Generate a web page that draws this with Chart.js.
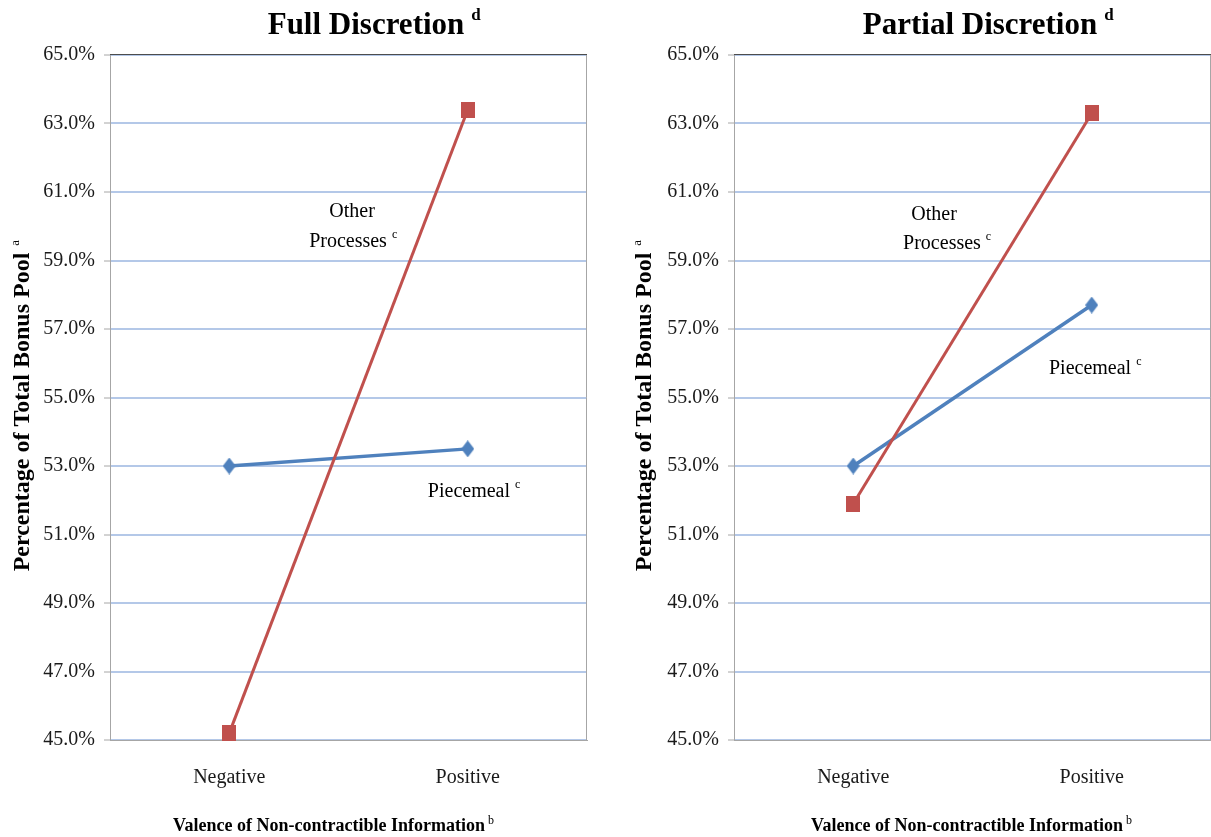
<!DOCTYPE html>
<html>
<head>
<meta charset="utf-8">
<title>Bonus pool allocation by valence of non-contractible information</title>
<script src="https://cdn.jsdelivr.net/npm/chart.js@4/dist/chart.umd.min.js"></script>
<style>
  html, body { margin: 0; padding: 0; background: #ffffff; overflow: hidden; }
  #wrap { position: relative; width: 1211px; height: 837px; }
  .panel { position: absolute; top: 0; height: 837px; }
  #leftPanel { left: 0; width: 620px; }
  #rightPanel { left: 620px; width: 591px; }
  canvas { display: block; }
</style>
</head>
<body>
<div id="wrap">
  <div class="panel" id="leftPanel"><canvas id="fullChart" width="620" height="837"></canvas></div>
  <div class="panel" id="rightPanel"><canvas id="partialChart" width="591" height="837"></canvas></div>
</div>
<script>
// ---- data ----
const categories = ['Negative', 'Positive'];
const yTickValues = [45, 47, 49, 51, 53, 55, 57, 59, 61, 63, 65];

const fullPiecemeal = [53.0, 53.5];
const fullOther = [45.2, 63.4];

const partialPiecemeal = [53.0, 57.7];
const partialOther = [51.9, 63.3];

// ---- styling ----
const SERIF = '"Liberation Serif", "Times New Roman", Times, serif';
const RED = '#c0504d';
const BLUE = '#4f81bd';
const GRID = '#b4c8e8';
const AXIS = '#a6a6a6';

function squareMarker(w, h, color) {
  const c = document.createElement('canvas');
  c.width = w; c.height = h;
  const g = c.getContext('2d');
  g.fillStyle = color;
  g.fillRect(0, 0, w, h);
  return c;
}
function diamondMarker(w, h, color) {
  const c = document.createElement('canvas');
  c.width = w; c.height = h;
  const g = c.getContext('2d');
  g.fillStyle = color;
  g.beginPath();
  g.moveTo(w / 2, 0);
  g.lineTo(w, h / 2);
  g.lineTo(w / 2, h);
  g.lineTo(0, h / 2);
  g.closePath();
  g.fill();
  return c;
}
const redSquare = squareMarker(14, 16, RED);
const blueDiamond = diamondMarker(13, 17, BLUE);

// text with a trailing superscript; (x) is the centre of the main text
function textWithSup(ctx, x, y, main, sup, mainFont, supFont, raise, gap) {
  ctx.font = mainFont;
  const w = ctx.measureText(main).width;
  ctx.textAlign = 'left';
  ctx.textBaseline = 'alphabetic';
  ctx.fillText(main, x - w / 2, y);
  ctx.font = supFont;
  ctx.fillText(sup, x + w / 2 + gap, y - raise);
}

// plot frame: dark top line, grey right edge
const framePlugin = {
  id: 'frame',
  beforeDatasetsDraw(chart) {
    const { ctx, chartArea: a } = chart;
    ctx.save();
    ctx.lineWidth = 1;
    ctx.strokeStyle = AXIS;
    ctx.beginPath();
    ctx.moveTo(a.right - 0.5, a.top);
    ctx.lineTo(a.right - 0.5, a.bottom);
    ctx.stroke();
    ctx.strokeStyle = '#4d4d4d';
    ctx.beginPath();
    ctx.moveTo(a.left, a.top - 0.5);
    ctx.lineTo(a.right, a.top - 0.5);
    ctx.stroke();
    ctx.restore();
  }
};

// titles, axis titles and series labels
const textPlugin = {
  id: 'texts',
  afterDraw(chart, args, opts) {
    const { ctx, scales } = chart;
    ctx.save();
    ctx.fillStyle = '#000';
    // chart title
    textWithSup(ctx, opts.titleX, 34, opts.title, 'd',
      'bold 31px ' + SERIF, 'bold 17px ' + SERIF, 14, 7);
    // x axis title
    textWithSup(ctx, opts.xTitleX, 831, 'Valence of Non-contractible Information', 'b',
      'bold 18px ' + SERIF, '12px ' + SERIF, 7, 3);
    // y axis title (rotated)
    ctx.save();
    ctx.translate(opts.yTitleX, 412);
    ctx.rotate(-Math.PI / 2);
    textWithSup(ctx, 0, 0, 'Percentage of Total Bonus Pool', 'a',
      'bold 24px ' + SERIF, '13px ' + SERIF, 10, 7);
    ctx.restore();
    // series labels anchored in data space
    for (const n of opts.notes) {
      const px = scales.x.getPixelForValue(n.at[0]);
      const py = scales.y.getPixelForValue(n.at[1]);
      if (n.sup) {
        textWithSup(ctx, px, py, n.text, n.sup, '20px ' + SERIF, '12px ' + SERIF, 9, 5);
      } else {
        ctx.font = '20px ' + SERIF;
        ctx.textAlign = 'center';
        ctx.textBaseline = 'alphabetic';
        ctx.fillText(n.text, px, py);
      }
    }
    ctx.restore();
  }
};

function makeChart(canvasId, piecemeal, other, cfg) {
  return new Chart(document.getElementById(canvasId), {
    type: 'line',
    data: {
      labels: categories,
      datasets: [
        {
          label: 'Other Processes',
          data: other,
          borderColor: RED,
          backgroundColor: RED,
          borderWidth: 3,
          pointStyle: redSquare,
          tension: 0,
          clip: false
        },
        {
          label: 'Piecemeal',
          data: piecemeal,
          borderColor: BLUE,
          backgroundColor: BLUE,
          borderWidth: 3.5,
          pointStyle: blueDiamond,
          tension: 0,
          clip: false
        }
      ]
    },
    options: {
      responsive: false,
      animation: false,
      events: [],
      layout: {
        autoPadding: false,
        padding: { top: 55, right: cfg.padRight, bottom: 0, left: 0 }
      },
      plugins: {
        legend: { display: false },
        tooltip: { enabled: false },
        texts: cfg.texts
      },
      scales: {
        x: {
          type: 'category',
          offset: true,
          grid: { display: false, drawTicks: false },
          border: { display: true, color: AXIS, width: 1 },
          ticks: {
            padding: 26,
            color: '#1a1a1a',
            font: { family: SERIF, size: 20 }
          },
          afterFit(scale) { scale.height = 97; }
        },
        y: {
          min: 45,
          max: 65,
          afterBuildTicks(scale) {
            scale.ticks = yTickValues.map(v => ({ value: v }));
          },
          grid: {
            color: GRID,
            lineWidth: 2,
            tickColor: AXIS,
            tickLength: 6,
            tickWidth: 1
          },
          border: { display: true, color: AXIS, width: 1 },
          ticks: {
            padding: 9,
            color: '#1a1a1a',
            font: { family: SERIF, size: 20 },
            callback: v => Number(v).toFixed(1) + '%'
          },
          afterFit(scale) { scale.width = cfg.yWidth; }
        }
      }
    },
    plugins: [framePlugin, textPlugin]
  });
}

makeChart('fullChart', fullPiecemeal, fullOther, {
  padRight: 33,
  yWidth: 110,
  texts: {
    title: 'Full Discretion',
    titleX: 366,
    xTitleX: 329,
    yTitleX: 29,
    notes: [
      { text: 'Other', at: [0.515, 60.27] },
      { text: 'Processes', sup: 'c', at: [0.498, 59.39] },
      { text: 'Piecemeal', sup: 'c', at: [1.005, 52.09] }
    ]
  }
});

makeChart('partialChart', partialPiecemeal, partialOther, {
  padRight: 0,
  yWidth: 114,
  texts: {
    title: 'Partial Discretion',
    titleX: 360,
    xTitleX: 347,
    yTitleX: 31,
    notes: [
      { text: 'Other', at: [0.339, 60.18] },
      { text: 'Processes', sup: 'c', at: [0.372, 59.34] },
      { text: 'Piecemeal', sup: 'c', at: [0.993, 55.69] }
    ]
  }
});
</script>
</body>
</html>
